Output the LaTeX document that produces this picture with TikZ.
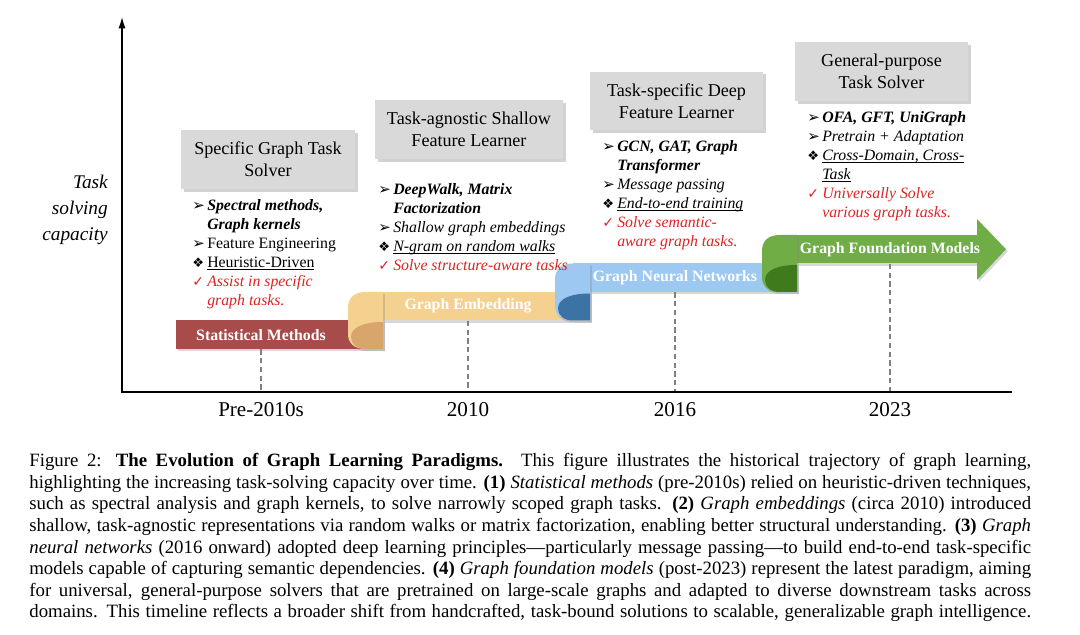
\documentclass[tikz,border=0pt]{standalone}
\usepackage{fontspec}
\setmainfont{Liberation Serif}
\newfontfamily\symfont{DejaVu Sans}
\usepackage{xcolor}
\usepackage{tikz}
\usetikzlibrary{shapes,arrows,positioning,calc,shadows,arrows.meta}

\definecolor{boxgray}{HTML}{D9D9D9}
\definecolor{smred}{HTML}{A84B4B}
\definecolor{getan}{HTML}{F4D18E}
\definecolor{getandark}{HTML}{D8A66C}
\definecolor{gnnblue}{HTML}{9CC8F2}
\definecolor{gnnbluedark}{HTML}{3B73A5}
\definecolor{gfmgreen}{HTML}{70AD47}
\definecolor{gfmgreendark}{HTML}{3F7A1C}
\definecolor{redtxt}{HTML}{E02222}

\newcommand{\arr}{\makebox[8.5pt][l]{\symfont\fontsize{8.5}{8.5}\selectfont ➢}}
\newcommand{\dia}{\makebox[8.5pt][l]{\symfont\fontsize{7.5}{7.5}\selectfont ❖}}
\newcommand{\chk}{\makebox[8.5pt][l]{\symfont\fontsize{8}{8}\selectfont\color{redtxt}✓}}
\newcommand{\ind}{\hspace*{8.5pt}}
\newcommand{\uln}[1]{\underline{\smash{#1}}}
\newcommand{\capline}[1]{\makebox[20.04cm][s]{#1}}

\begin{document}
\begin{tikzpicture}[x=0.02cm, y=-0.02cm,
    axisline/.style={line width=1.2pt},
    tickline/.style={gray, line width=0.6pt, dash pattern=on 3pt off 2pt},
    titlebox/.style={fill=boxgray, align=center, inner sep=2pt,
        font=\fontsize{10.3}{12.5}\selectfont,
        drop shadow={shadow xshift=1.5pt, shadow yshift=-1.5pt, opacity=0.35}},
    itemlist/.style={anchor=north west, align=left, inner sep=0pt,
        font=\fontsize{9}{10.8}\selectfont},
    bandtext/.style={text=white, font=\fontsize{9}{10}\selectfont\bfseries,
        inner sep=0pt, minimum height=0.57cm},
    ribbon/.style={drop shadow={shadow xshift=1pt, shadow yshift=-1.2pt, opacity=0.3}},
    yearlabel/.style={font=\fontsize{12}{14}\selectfont}]

    \fill[white] (0,0) rectangle (1080,635);
    \useasboundingbox (0,0) rectangle (1080,635);

    % axes
    \coordinate (origin) at (122,392);
    \coordinate (ytop) at (122,16);
    \coordinate (xend) at (1012,392);
    \node[font=\fontsize{11}{14.7}\selectfont\itshape, align=right, anchor=east] (ylab) at (114,210) {Task\\solving\\capacity};

    % ribbons
    \fill[smred, ribbon] (176,320.5) rectangle (383,349);
    \foreach \xl/\yt/\xe/\light/\dark in {348/292/590/getan/getandark,
        555/263.5/797/gnnblue/gnnbluedark, 762/235/978/gfmgreen/gfmgreendark}{
        \begin{scope}[shift={(\xl,\yt)}]
            \fill[\light, ribbon] (18,0) rectangle (\xe-\xl,28.5);
            \fill[\light, ribbon] (35,28.5) -- (35,57) -- (18,57) .. controls (6,57) and (0,51) .. (0,42)
                -- (0,16) .. controls (0,6) and (6,0) .. (18,0) -- (35,0) -- cycle;
            \fill[\dark] (35,30) -- (35,57) -- (18,57) .. controls (9,57) and (3,52) .. (3,45)
                .. controls (3,36) and (14,30) .. (35,30) -- cycle;
        \end{scope}
    }
    \fill[gfmgreen, ribbon] (977,219) -- (1006,249.25) -- (977,280) -- cycle;

    \node[bandtext] (sm) at (261,334.75) {Statistical Methods};
    \node[bandtext] (ge) at (468,306.25) {Graph Embedding};
    \node[bandtext] (gnn) at (675,277.75) {Graph Neural Networks};
    \node[bandtext] (gfm) at (890,249.25) {Graph Foundation Models};

    \foreach \n in {sm,ge,gnn,gfm}
        \draw[tickline] (\n.south) -- (\n.south |- origin);
    \draw[axisline, -{Latex[length=7pt,width=4pt]}] (xend) -- (origin) -- (ytop);

    \node[yearlabel] (pre) at (261,410) {Pre-2010s};
    \node[yearlabel] (y10) at (468,410) {2010};
    \node[yearlabel] (y16) at (675,410) {2016};
    \node[yearlabel] (y23) at (890,410) {2023};

    % paradigm boxes
    \node[titlebox, minimum width=3.48cm, minimum height=1.18cm] (sgts) at (268,159.5) {Specific Graph Task\\Solver};
    \node[titlebox, minimum width=3.76cm, minimum height=1.18cm] (tasl) at (469,129.5) {Task-agnostic Shallow\\Feature Learner};
    \node[titlebox, minimum width=3.46cm, minimum height=1.18cm] (tsdl) at (676.5,101) {Task-specific Deep\\Feature Learner};
    \node[titlebox, minimum width=3.46cm, minimum height=1.18cm] (gpts) at (881.5,71.5) {General-purpose\\Task Solver};

    \node[itemlist] (sgtslist) at (192,196.5) {\strut\arr\textbf{\textit{Spectral methods,}}\\
        \ind\textbf{\textit{Graph kernels}}\\
        \arr Feature Engineering\\
        \dia\uln{Heuristic-Driven}\\
        \chk\textcolor{redtxt}{\textit{Assist in specific}}\\
        \ind\textcolor{redtxt}{\textit{graph tasks.}}};
    \node[itemlist] (tasllist) at (378,180.7) {\strut\arr\textbf{\textit{DeepWalk, Matrix}}\\
        \ind\textbf{\textit{Factorization}}\\
        \arr\textit{Shallow graph embeddings}\\
        \dia\uln{\textit{N-gram on random walks}}\\
        \chk\textcolor{redtxt}{\textit{Solve structure-aware tasks}}};
    \node[itemlist] (tsdllist) at (602,137.5) {\strut\arr\textbf{\textit{GCN, GAT, Graph}}\\
        \ind\textbf{\textit{Transformer}}\\
        \arr\textit{Message passing}\\
        \dia\uln{\textit{End-to-end training}}\\
        \chk\textcolor{redtxt}{\textit{Solve semantic-}}\\
        \ind\textcolor{redtxt}{\textit{aware graph tasks.}}};
    \node[itemlist] (gptslist) at (807,108.5) {\strut\arr\textbf{\textit{OFA, GFT, UniGraph}}\\
        \arr\textit{Pretrain + Adaptation}\\
        \dia\uln{\textit{Cross-Domain, Cross-}}\\
        \ind\uln{\textit{Task}}\\
        \chk\textcolor{redtxt}{\textit{Universally Solve}}\\
        \ind\textcolor{redtxt}{\textit{various graph tasks.}}};

    % caption
    \node[anchor=north west, inner sep=0pt, align=left, font=\fontsize{10.7}{12.25}\selectfont] (caption) at (29,451.5) {\strut
        \capline{Figure 2: \textbf{The Evolution of Graph Learning Paradigms.} This figure illustrates the historical trajectory of graph learning,}\\
        \capline{highlighting the increasing task-solving capacity over time. \textbf{(1)} \textit{Statistical methods} (pre-2010s) relied on heuristic-driven techniques,}\\
        \capline{such as spectral analysis and graph kernels, to solve narrowly scoped graph tasks. \textbf{(2)} \textit{Graph embeddings} (circa 2010) introduced}\\
        \capline{shallow, task-agnostic representations via random walks or matrix factorization, enabling better structural understanding. \textbf{(3)} \textit{Graph}}\\
        \capline{\textit{neural networks} (2016 onward) adopted deep learning principles---particularly message passing---to build end-to-end task-specific}\\
        \capline{models capable of capturing semantic dependencies. \textbf{(4)} \textit{Graph foundation models} (post-2023) represent the latest paradigm, aiming}\\
        \capline{for universal, general-purpose solvers that are pretrained on large-scale graphs and adapted to diverse downstream tasks across}\\
        \capline{domains. This timeline reflects a broader shift from handcrafted, task-bound solutions to scalable, generalizable graph intelligence.}};
\end{tikzpicture}
\end{document}
